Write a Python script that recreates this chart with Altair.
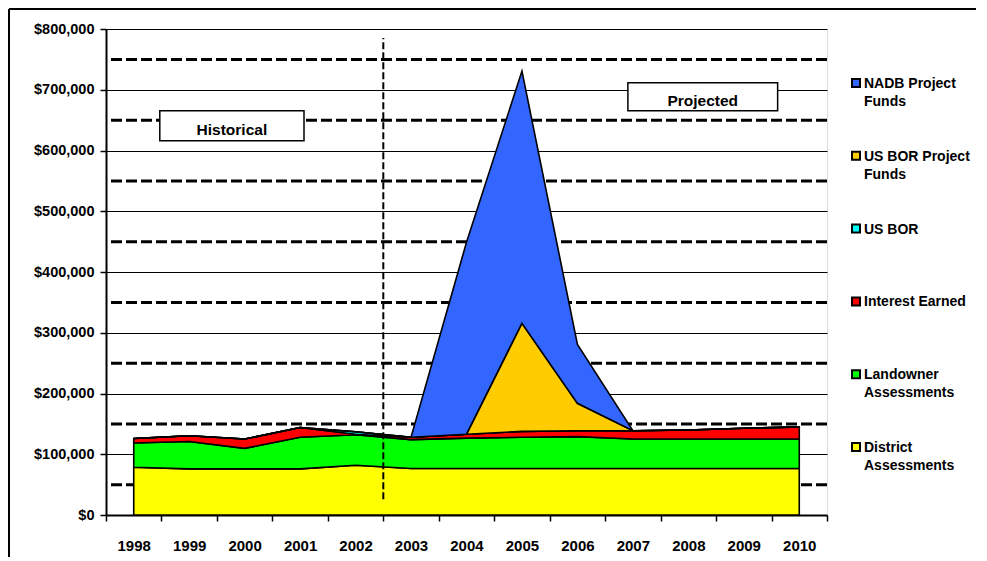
import altair as alt
import pandas as pd

# ---------------- data ----------------
years = list(range(1998, 2011))
district_assessments = [78500, 76000, 76000, 76000, 82000, 76500, 76500, 76500, 76500, 76500, 76500, 76500, 76500]
landowner_assessments = [40000, 45000, 33700, 52000, 50000, 47500, 50000, 51500, 52500, 48500, 48500, 48500, 48500]
interest_earned = [7500, 9500, 15300, 16000, 1000, 4000, 6500, 9700, 9800, 13800, 15000, 17700, 20000]
us_bor = [0, 0, 0, 0, 4000, 0, 0, 0, 0, 0, 0, 0, 0]
us_bor_project_funds = [0, 0, 0, 0, 0, 0, 0, 178000, 45000, 0, 0, 0, 0]
nadb_project_funds = [0, 0, 0, 0, 0, 0, 316000, 415000, 97000, 0, 0, 0, 0]

# stacking order, bottom -> top
series_names = ["District Assessments", "Landowner Assessments", "Interest Earned",
                "US BOR", "US BOR Project Funds", "NADB Project Funds"]
series_values = [district_assessments, landowner_assessments, interest_earned,
                 us_bor, us_bor_project_funds, nadb_project_funds]
series_colors = ["#FFFF00", "#00FF00", "#FF0000", "#00FFFF", "#FFCC00", "#3366FF"]

# legend, top -> bottom
legend_names = list(reversed(series_names))
legend_labels = ["NADB Project\nFunds", "US BOR Project\nFunds", "US BOR",
                 "Interest  Earned", "Landowner\nAssessments", "District\nAssessments"]

grid_values = [0, 100000, 200000, 300000, 400000, 500000, 600000, 700000, 800000]
dashed_values = [50000, 150000, 250000, 350000, 450000, 550000, 650000, 750000]
divider_year = 2002.5
divider_span = [26000, 785000]

annotation_labels = ["Historical", "Projected"]
annotation_x0 = [1998.47, 2006.91]
annotation_x1 = [2001.07, 2009.61]
annotation_y0 = [616000, 665500]
annotation_y1 = [665500, 711600]

# ---------------- tables ----------------
rows = []
for k, (name, vals) in enumerate(zip(series_names, series_values)):
    for yr, v in zip(years, vals):
        rows.append({"year": yr, "series": name, "value": v, "order": k})
df = pd.DataFrame(rows)

legend_df = pd.DataFrame({"series": legend_names, "label": legend_labels})
dash_df = pd.DataFrame({"v": dashed_values})
divider_df = pd.DataFrame({"x": [divider_year], "y0": [divider_span[0]], "y1": [divider_span[1]]})
ann_df = pd.DataFrame({"label": annotation_labels, "x0": annotation_x0, "x1": annotation_x1,
                       "y0": annotation_y0, "y1": annotation_y1})
one = pd.DataFrame({"a": [0]})

# ---------------- scales / axes ----------------
x_scale = alt.Scale(domain=[1997.5, 2010.5], nice=False, zero=False)
y_scale = alt.Scale(domain=[0, 800000], nice=False)
color_scale = alt.Scale(domain=series_names, range=series_colors)

x_axis = alt.Axis(values=[1997.5 + i for i in range(14)],
                  labelExpr="datum.value > 2010 ? '' : format(datum.value + 0.5, 'd')",
                  labelOffset=27.7, tickSize=6, labelPadding=17, grid=False, title=None,
                  labelFontSize=15, labelFontWeight="bold", labelColor="black",
                  tickColor="black", tickWidth=1.5, domainColor="black", domainWidth=2,
                  labelOverlap=False, labelFlush=False, labelBound=False)
y_axis = alt.Axis(values=grid_values, format="$,.0f", tickSize=6, labelPadding=6,
                  grid=True, gridColor="black", gridWidth=1, gridOpacity=1, title=None,
                  labelFontSize=14.5, labelFontWeight="bold", labelColor="black",
                  tickColor="black", tickWidth=1.5, domainColor="black", domainWidth=2)

# ---------------- layers ----------------
dashed = alt.Chart(dash_df).mark_rule(color="black", strokeWidth=3, strokeDash=[11, 4]).encode(
    y=alt.Y("v:Q", scale=y_scale, axis=y_axis))

areas = alt.Chart(df).mark_area(stroke="black", strokeWidth=1.6, opacity=1).encode(
    x=alt.X("year:Q", scale=x_scale, axis=x_axis),
    y=alt.Y("value:Q", stack="zero", scale=y_scale, axis=y_axis),
    color=alt.Color("series:N", scale=color_scale, legend=None),
    order=alt.Order("order:Q", sort="ascending"))

divider = alt.Chart(divider_df).mark_rule(color="black", strokeWidth=2, strokeDash=[7, 3]).encode(
    x=alt.X("x:Q", scale=x_scale, axis=x_axis),
    y=alt.Y("y0:Q", scale=y_scale, axis=y_axis),
    y2="y1:Q")

ann_rect = alt.Chart(ann_df).mark_rect(fill="white", stroke="black", strokeWidth=1.5).encode(
    x=alt.X("x0:Q", scale=x_scale, axis=x_axis), x2="x1:Q",
    y=alt.Y("y0:Q", scale=y_scale, axis=y_axis), y2="y1:Q")

ann_text = alt.Chart(ann_df).transform_calculate(
    xm="(datum.x0 + datum.x1) / 2", ym="(datum.y0 + datum.y1) / 2"
).mark_text(fontSize=15.5, fontWeight="bold", color="black", dy=4).encode(
    x=alt.X("xm:Q", scale=x_scale, axis=x_axis),
    y=alt.Y("ym:Q", scale=y_scale, axis=y_axis),
    text="label:N")

frame_left = alt.Chart(one).mark_rule(color="black", strokeWidth=2).encode(
    x=alt.value(-97), y=alt.value(-20), y2=alt.value(528))
frame_top = alt.Chart(one).mark_rule(color="black", strokeWidth=2).encode(
    x=alt.value(-97), x2=alt.value(870), y=alt.value(-20))

main = alt.layer(dashed, areas, divider, ann_rect, ann_text, frame_left, frame_top)

legend_y = alt.Y("series:N", scale=alt.Scale(type="point", domain=legend_names, range=[54, 418], padding=0), axis=None)
leg_sq = alt.Chart(legend_df).mark_square(size=64, stroke="black", strokeWidth=2, opacity=1).encode(
    x=alt.value(750), y=legend_y,
    color=alt.Color("series:N", scale=color_scale, legend=None))
leg_tx = alt.Chart(legend_df).mark_text(align="left", baseline="top", dy=-6, fontSize=14,
                                        fontWeight="bold", color="black", lineBreak="\n",
                                        lineHeight=18).encode(
    x=alt.value(758), y=legend_y, text="label:N")
legend = alt.layer(leg_sq, leg_tx)

chart = alt.layer(main, legend).resolve_scale(y="independent").properties(
    width=721, height=486, padding=0
).configure_view(stroke="black", strokeWidth=1.5).configure(font="Liberation Sans")

chart.save("out.html", embed_options={"renderer": "svg", "actions": False})
